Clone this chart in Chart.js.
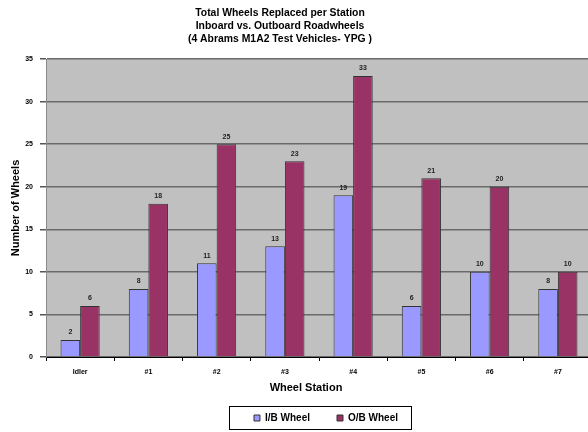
<!DOCTYPE html>
<html>
<head>
<meta charset="utf-8">
<script src="https://cdn.jsdelivr.net/npm/chart.js@4"></script>
<style>
  html, body { margin: 0; padding: 0; background: #fff; overflow: hidden; }
  #wrap { position: relative; width: 600px; height: 432px; }
</style>
</head>
<body>
<div id="wrap"><canvas id="c" width="600" height="432"></canvas></div>
<script>
// Wheel stations along the track
const stations = ['Idler', '#1', '#2', '#3', '#4', '#5', '#6', '#7'];
// Wheels replaced per station
const inboard = [2, 8, 11, 13, 19, 6, 10, 8];
const outboard = [6, 18, 25, 23, 33, 21, 20, 10];
const seriesNames = ['I/B Wheel', 'O/B Wheel'];
// Y axis range and step
const yMin = 0, yMax = 35, yStep = 5;
const titleLines = [
  'Total Wheels Replaced per Station',
  'Inboard vs. Outboard Roadwheels',
  '(4 Abrams M1A2 Test Vehicles- YPG )'
];
const xTitle = 'Wheel Station';
const yTitle = 'Number of Wheels';

const FONT = '"Liberation Sans", Arial, sans-serif';

// Grey plot background
const plotBg = {
  id: 'plotBg',
  beforeDraw(chart) {
    const { ctx, chartArea: a } = chart;
    ctx.save();
    ctx.fillStyle = '#c0c0c0';
    ctx.fillRect(a.left, a.top, a.right - a.left, a.bottom - a.top);
    ctx.restore();
  }
};

// Three-line heading and the x axis caption
const captions = {
  id: 'captions',
  afterDraw(chart) {
    const { ctx, chartArea: a } = chart;
    ctx.save();
    ctx.fillStyle = '#000';
    ctx.textAlign = 'center';
    ctx.textBaseline = 'middle';
    ctx.font = 'bold 10.4px ' + FONT;
    titleLines.forEach((t, i) => ctx.fillText(t, 280, 13 + i * 13));
    ctx.font = 'bold 11px ' + FONT;
    ctx.fillText(xTitle, (a.left + a.right) / 2 - 13, 388);
    ctx.restore();
  }
};

// Value printed above each bar
const valueLabels = {
  id: 'valueLabels',
  afterDatasetsDraw(chart) {
    const { ctx } = chart;
    ctx.save();
    ctx.fillStyle = '#222';
    ctx.font = 'bold 7px ' + FONT;
    ctx.textAlign = 'center';
    ctx.textBaseline = 'bottom';
    chart.data.datasets.forEach((ds, di) => {
      chart.getDatasetMeta(di).data.forEach((bar, i) => {
        ctx.fillText(String(ds.data[i]), bar.x, bar.y - 4);
      });
    });
    ctx.restore();
  }
};

// Nudge the legend a little to the right of the plot centre
const legendShift = {
  id: 'legendShift',
  afterLayout(chart) {
    const lg = chart.legend;
    if (!lg) return;
    const dx = 7;
    lg.left += dx;
    lg.right += dx;
    (lg.legendHitBoxes || []).forEach(b => { b.left += dx; });
  }
};

// Frame around the legend entries
const legendFrame = {
  id: 'legendFrame',
  afterDraw(chart) {
    const boxes = chart.legend && chart.legend.legendHitBoxes;
    if (!boxes || !boxes.length) return;
    const left = Math.min(...boxes.map(b => b.left));
    const right = Math.max(...boxes.map(b => b.left + b.width));
    const top = Math.min(...boxes.map(b => b.top));
    const bottom = Math.max(...boxes.map(b => b.top + b.height));
    const { ctx } = chart;
    ctx.save();
    ctx.strokeStyle = '#000';
    ctx.lineWidth = 1;
    ctx.strokeRect(Math.round(left - 25) + 0.5, Math.round(top - 7) + 0.5,
                   Math.round(right - left + 38), Math.round(bottom - top + 13));
    ctx.restore();
  }
};

new Chart(document.getElementById('c'), {
  type: 'bar',
  data: {
    labels: stations,
    datasets: [
      {
        label: seriesNames[0],
        data: inboard,
        backgroundColor: '#9999ff',
        borderColor: '#333333',
        borderWidth: 1,
        categoryPercentage: 0.574,
        barPercentage: 1.0
      },
      {
        label: seriesNames[1],
        data: outboard,
        backgroundColor: '#993366',
        borderColor: '#333333',
        borderWidth: 1,
        categoryPercentage: 0.574,
        barPercentage: 1.0
      }
    ]
  },
  options: {
    responsive: false,
    animation: false,
    devicePixelRatio: 1,
    layout: { padding: { top: 59, right: 8, left: 0, bottom: -1 } },
    plugins: {
      title: { display: false },
      tooltip: { enabled: false },
      legend: {
        position: 'bottom',
        fullSize: false,
        labels: {
          boxWidth: 6,
          boxHeight: 6,
          padding: 27,
          color: '#000',
          font: { family: FONT, size: 10, weight: 'bold' }
        }
      }
    },
    scales: {
      x: {
        afterFit(scale) { scale.height = 29; },
        grid: {
          display: true,
          drawOnChartArea: false,
          drawTicks: true,
          tickLength: 4,
          color: '#000',
          offset: true
        },
        border: { display: true, color: '#000', width: 1 },
        ticks: {
          color: '#000',
          padding: 7,
          maxRotation: 0,
          font: { family: FONT, size: 7, weight: 'bold' }
        }
      },
      y: {
        min: yMin,
        max: yMax,
        afterFit(scale) { scale.width = 46; },
        grid: {
          color: '#6a6a6a',
          lineWidth: 1.5,
          drawTicks: true,
          tickLength: 6,
          tickColor: '#555'
        },
        border: { display: true, color: '#8a8a8a', width: 1 },
        ticks: {
          stepSize: yStep,
          color: '#000',
          padding: 7,
          font: { family: FONT, size: 7, weight: 'bold' }
        },
        title: {
          display: true,
          text: yTitle,
          color: '#000',
          padding: { top: 9, bottom: 0 },
          font: { family: FONT, size: 11, weight: 'bold' }
        }
      }
    }
  },
  plugins: [plotBg, captions, valueLabels, legendShift, legendFrame]
});
</script>
</body>
</html>
